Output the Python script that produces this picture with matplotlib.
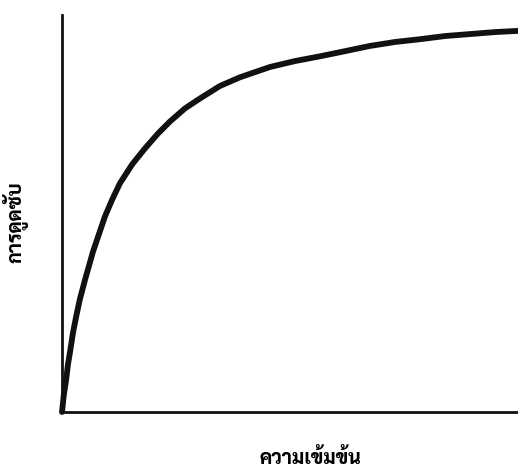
import matplotlib
matplotlib.use("Agg")
import matplotlib.pyplot as plt

# concentration vs. adsorption
concentration = [0.0, 0.04, 0.09, 0.13, 0.18, 0.24, 0.31, 0.39, 0.50, 0.68, 0.94,
                 1.10, 1.27, 1.54, 1.82, 2.11, 2.37, 2.70, 3.03, 3.46, 3.90, 4.56,
                 5.11, 5.66, 6.21, 6.75, 7.30, 7.85, 8.40, 8.95, 9.50, 10.0]
adsorption = [0.0, 0.43, 0.81, 1.19, 1.54, 1.99, 2.40, 2.83, 3.31, 4.04, 4.92,
              5.35, 5.76, 6.24, 6.64, 7.02, 7.32, 7.65, 7.90, 8.21, 8.43, 8.69,
              8.84, 8.96, 9.09, 9.22, 9.32, 9.39, 9.47, 9.52, 9.57, 9.60]

xlabel = "ความเข้มข้น"
ylabel = "การดูดซับ"

THAI = ["Sarabun", "DejaVu Sans"]

fig = plt.figure(figsize=(5.18, 4.69), dpi=100)
ax = fig.add_axes([62 / 518, 57 / 469, 456 / 518, 397 / 469])

ax.plot(concentration, adsorption, color="#111111", linewidth=4.2,
        solid_capstyle="round", solid_joinstyle="round", clip_on=False)

ax.set_xlim(0, 10)
ax.set_ylim(0, 10)
ax.set_xticks([])
ax.set_yticks([])
for side in ("top", "right"):
    ax.spines[side].set_visible(False)
for side in ("left", "bottom"):
    ax.spines[side].set_linewidth(2.0)
    ax.spines[side].set_color("#111111")

fig.text(310 / 518, 1 - 458 / 469, xlabel, family=THAI, weight=800,
         fontsize=14, ha="center", va="center")
fig.text(15 / 518, 1 - 222 / 469, ylabel, family=THAI, weight=800,
         fontsize=14, ha="center", va="center", rotation=90)

fig.savefig("out.png", dpi=100)
